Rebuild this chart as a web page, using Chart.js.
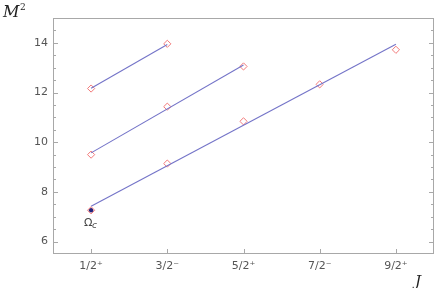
<!DOCTYPE html>
<html><head><meta charset="utf-8">
<script src="https://cdn.jsdelivr.net/npm/chart.js@4/dist/chart.umd.min.js"></script>
<style>html,body{margin:0;padding:0;background:#fff}#wrap{width:436px;height:288px}</style>
</head><body><div id="wrap"><canvas id="c" width="436" height="288"></canvas></div>
<script>
const J = [0.5, 1.5, 2.5, 3.5, 4.5];
const jLabels = ['1/2\u207A', '3/2\u207B', '5/2\u207A', '7/2\u207B', '9/2\u207A'];
const yTicks = [6, 8, 10, 12, 14];
const traj1 = [12.16, 13.96];
const traj2 = [9.50, 11.43, 13.05];
const traj3 = [7.26, 9.14, 10.84, 12.33, 13.72];
const fit1 = [12.17, 13.93];
const fit2 = [9.57, 13.11];
const fit3 = [7.42, 13.94];
const omegaC = [7.26];

const pts = arr => arr.map((v, i) => ({x: J[i], y: v}));
const fitLine = (arr, lastIdx) => [{x: J[0], y: arr[0]}, {x: J[lastIdx], y: arr[1]}];

const lineColor = '#7474c8';
const diaColor = '#f27a7a';
const frameColor = '#a8a8a8';
const tickColor = '#555';

const lineDs = d => ({type: 'line', data: d, borderColor: lineColor, borderWidth: 1.1, pointRadius: 0, fill: false, tension: 0});
const diaDs = d => ({type: 'scatter', data: d, pointStyle: 'rectRot', pointRadius: 3.6, borderColor: diaColor, backgroundColor: 'rgba(255,255,255,0)', pointBorderWidth: 1});

const frame = {
  id: 'frame',
  afterDraw(chart) {
    const ctx = chart.ctx, a = chart.chartArea;
    const xs = chart.scales.x, ys = chart.scales.y;
    ctx.save();
    ctx.strokeStyle = frameColor; ctx.lineWidth = 1;
    ctx.strokeRect(Math.round(a.left) + 0.5, Math.round(a.top) + 0.5, Math.round(a.right - a.left) - 1, Math.round(a.bottom - a.top) - 1);
    ctx.beginPath();
    J.forEach(v => {
      const px = Math.round(xs.getPixelForValue(v)) + 0.5;
      ctx.moveTo(px, a.bottom); ctx.lineTo(px, a.bottom - 5);
    });
    for (let v = 6; v <= 14.5; v += 0.5) {
      const py = Math.round(ys.getPixelForValue(v)) + 0.5;
      const len = (v % 2 === 0) ? 5 : 3;
      ctx.moveTo(a.left, py); ctx.lineTo(a.left + len, py);
      ctx.moveTo(a.right, py); ctx.lineTo(a.right - len, py);
    }
    ctx.stroke();
    ctx.fillStyle = '#222';
    ctx.font = 'italic 16px "DejaVu Serif"';
    ctx.textBaseline = 'alphabetic';
    ctx.fillText('M', 3, 17);
    ctx.font = '9px "DejaVu Serif"';
    ctx.fillText('2', 20, 10);
    ctx.font = 'italic 15px "DejaVu Serif"';
    ctx.fillText('J', 415, 286);
    const ox = xs.getPixelForValue(J[0]), oy = ys.getPixelForValue(omegaC[0]);
    ctx.fillStyle = '#444';
    ctx.font = '11px "DejaVu Sans"';
    ctx.fillText('\u03A9', ox - 7, oy + 16);
    ctx.font = 'italic 9px "DejaVu Sans"';
    ctx.fillText('c', ox + 1, oy + 18);
    ctx.restore();
  }
};

new Chart(document.getElementById('c'), {
  data: {
    datasets: [
      lineDs(fitLine(fit1, 1)),
      lineDs(fitLine(fit2, 2)),
      lineDs(fitLine(fit3, 4)),
      diaDs(pts(traj1)),
      diaDs(pts(traj2)),
      diaDs(pts(traj3)),
      {type: 'scatter', data: pts(omegaC), pointStyle: 'circle', pointRadius: 2.2, backgroundColor: '#23237a', borderColor: '#23237a', borderWidth: 0}
    ]
  },
  options: {
    responsive: false, animation: false, devicePixelRatio: 1,
    layout: {autoPadding: false, padding: {left: 0, top: 18, right: 2, bottom: 0}},
    plugins: {legend: {display: false}, tooltip: {enabled: false}},
    scales: {
      x: {
        type: 'linear', min: 0, max: 5,
        grid: {display: false, drawTicks: false}, border: {display: false},
        afterBuildTicks: s => { s.ticks = J.map(v => ({value: v})); },
        afterFit: s => { s.height = 34; s.paddingLeft = 0; s.paddingRight = 0; },
        ticks: {padding: 6, color: tickColor, font: {family: 'DejaVu Sans', size: 11},
          autoSkip: false, maxRotation: 0,
          callback: (v) => { const i = J.indexOf(v); return i >= 0 ? jLabels[i] : ''; }}
      },
      y: {
        type: 'linear', min: 5.5, max: 15,
        grid: {display: false, drawTicks: false}, border: {display: false},
        afterBuildTicks: s => { s.ticks = yTicks.map(v => ({value: v})); },
        afterFit: s => { s.width = 53; s.paddingTop = 0; s.paddingBottom = 0; },
        ticks: {padding: 5, color: tickColor, font: {family: 'DejaVu Sans', size: 11}}
      }
    }
  },
  plugins: [frame]
});
</script></body></html>
